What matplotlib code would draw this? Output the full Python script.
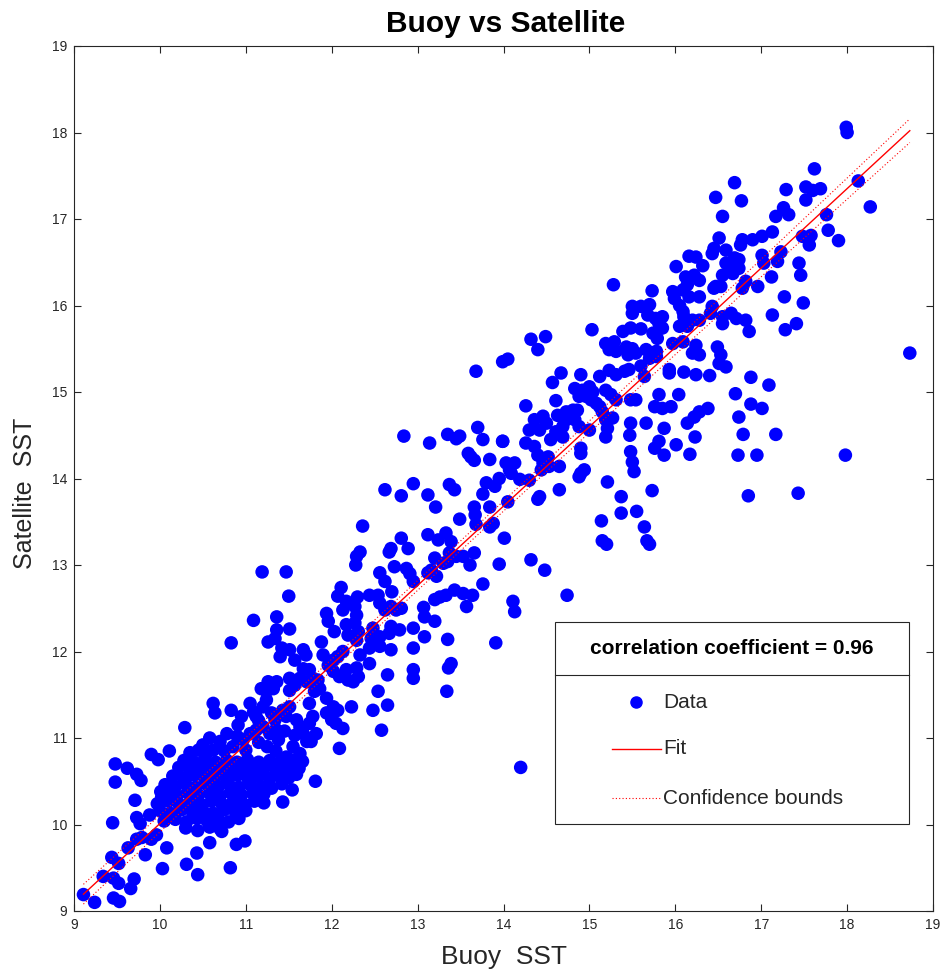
import numpy as np
import matplotlib
matplotlib.use("Agg")
import matplotlib.pyplot as plt
from matplotlib.patches import Rectangle
from matplotlib.lines import Line2D

plt.rcParams['font.family'] = ['Liberation Sans', 'DejaVu Sans']

# ---- data (Buoy SST, Satellite SST) ----
pts_low = [
    (10.29,11.12),(10.11,10.85),(9.90,10.81),(9.98,10.75),(9.48,10.70),(9.62,10.65),(9.73,10.58),(9.78,10.51),
    (9.48,10.49),(9.71,10.28),(9.45,10.02),(9.73,10.08),(9.77,10.01),(9.88,10.11),(10.01,10.38),(10.02,10.31),
    (9.96,9.88),(9.90,9.83),(9.79,9.85),(9.73,9.83),(9.63,9.73),(10.08,9.73),(9.83,9.65),(9.44,9.62),(9.52,9.55),
    (9.34,9.40),(9.46,9.38),(9.52,9.32),(9.70,9.37),(9.66,9.26),(10.03,9.49),(10.31,9.54),(10.44,9.42),(10.43,9.67),
    (10.82,9.50),(10.89,9.77),(10.99,9.81),(10.58,9.79),(10.72,9.92),(9.11,9.19),(9.24,9.10),(9.46,9.15),(9.53,9.11),
    (11.59,10.58),(11.54,10.40),(11.43,10.26),(11.21,10.25),(11.21,10.35),(11.30,10.42),
    (10.30,9.96),(10.44,9.93),(10.58,9.97),(10.70,9.95),
    (10.05,10.04),(10.18,10.06),(10.31,10.03),(10.43,10.07),(10.55,10.04),(10.68,10.06),(10.80,10.03),(10.92,10.07),
    (10.00,10.16),(10.12,10.13),(10.25,10.17),(10.38,10.14),(10.50,10.16),(10.62,10.13),(10.75,10.17),(10.88,10.14),(11.00,10.16),
    (9.97,10.24),(10.10,10.27),(10.22,10.24),(10.35,10.26),(10.48,10.23),(10.60,10.27),(10.72,10.24),(10.85,10.26),(10.98,10.23),(11.10,10.27),
    (10.08,10.36),(10.20,10.33),(10.32,10.37),(10.45,10.34),(10.58,10.36),(10.70,10.33),(10.82,10.37),(10.95,10.34),(11.08,10.36),
    (10.06,10.46),(10.18,10.44),(10.30,10.47),(10.42,10.43),(10.55,10.46),(10.68,10.44),(10.80,10.47),(10.92,10.43),(11.05,10.46),(11.18,10.44),(11.42,10.47),
    (10.15,10.56),(10.28,10.53),(10.40,10.57),(10.52,10.54),(10.65,10.56),(10.78,10.53),(10.90,10.57),(11.02,10.54),(11.15,10.56),(11.28,10.53),(11.40,10.57),(11.50,10.54),
    (10.22,10.66),(10.35,10.63),(10.48,10.67),(10.60,10.64),(10.72,10.66),(10.85,10.63),(10.98,10.67),(11.10,10.64),(11.22,10.66),(11.35,10.63),(11.48,10.67),(11.62,10.65),
    (10.28,10.74),(10.40,10.72),(10.52,10.75),(10.65,10.72),(10.78,10.74),(10.90,10.72),(11.02,10.75),(11.15,10.72),(11.28,10.74),(11.40,10.72),(11.52,10.75),(11.66,10.73),
    (10.35,10.83),(10.45,10.86),
]

pts_mid = [
    (11.19,12.92),(11.47,12.92),(11.50,12.64),(12.28,13.00),(12.56,12.91),(12.62,12.81),(12.73,12.98),(12.87,12.96),
    (12.91,12.90),(12.95,12.81),(13.12,12.91),(12.11,12.74),(12.07,12.64),(12.17,12.58),(12.13,12.48),(12.30,12.63),
    (12.27,12.52),(12.29,12.42),(12.44,12.65),(12.54,12.65),(12.56,12.56),(12.62,12.48),(12.70,12.69),(12.69,12.52),
    (12.75,12.48),(12.81,12.50),(13.07,12.51),(11.94,12.44),(11.96,12.35),(11.09,12.36),(11.36,12.40),(11.36,12.25),
    (11.34,12.15),(11.26,12.11),(11.51,12.26),(10.83,12.10),(12.03,12.23),(12.17,12.31),(12.27,12.33),(12.31,12.23),
    (12.19,12.19),(12.29,12.13),(12.48,12.27),(12.46,12.15),(12.56,12.17),(11.88,12.11),(12.69,12.29),(12.79,12.25),
    (12.67,12.21),(12.95,12.27),(13.08,12.17),(12.44,12.04),(12.56,12.06),(12.69,12.02),(12.95,12.04),(12.33,11.96),
    (12.13,12.00),(12.07,11.94),(12.02,11.90),(11.90,11.96),(11.96,11.84),(12.02,11.77),(12.09,11.71),(12.17,11.79),
    (12.29,11.81),(12.31,11.71),(12.19,11.67),(12.25,11.65),(12.44,11.86),(12.65,11.73),(12.95,11.79),(12.95,11.69),
    (11.51,12.02),(11.40,11.94),(11.42,12.04),(11.57,11.90),(11.67,12.02),(11.70,11.96),(11.67,11.80),(11.74,11.79),
    (11.78,11.69),(11.63,11.69),(11.71,11.65),(11.51,11.69),(11.57,11.61),(11.51,11.55),(11.84,11.67),(11.86,11.57),
    (11.80,11.54),(11.26,11.65),(11.36,11.65),(11.18,11.57),(11.24,11.54),(11.32,11.57),(12.54,11.54),(11.94,11.46),
    (12.02,11.36),(12.07,11.32),(12.23,11.36),(12.48,11.32),(12.65,11.38),(12.58,11.09),(11.74,11.40),(11.78,11.25),
    (11.74,11.17),(11.82,11.05),(11.76,10.96),(11.94,11.29),(12.00,11.21),(12.05,11.17),(12.13,11.11),(12.09,10.88),
    (10.62,11.40),(10.64,11.29),(10.83,11.32),(10.91,11.15),
    (11.05,11.40),(11.09,11.30),(11.12,11.25),(11.20,11.36),(11.24,11.44),(11.30,11.29),(11.34,11.21),(11.43,11.32),
    (11.51,11.36),(11.47,11.25),(11.59,11.21),(11.63,11.13),(11.57,11.03),(11.67,11.05),(11.71,10.96),(11.55,10.90),
    (11.63,10.82),(11.47,10.78),(11.38,10.98),(11.28,11.05),(11.20,11.13),(11.12,11.09),(11.05,11.05),(10.97,10.98),
    (10.85,10.90),(10.78,11.05),(10.70,10.96),(10.62,10.86),(10.54,10.82),
    (10.58,11.00),(10.75,10.85),(10.90,11.02),(11.00,10.86),(11.15,10.95),(11.25,10.90),(11.35,10.85),(11.45,11.08),
    (11.15,11.20),(10.95,11.25),(11.35,11.10),(10.50,10.92),
    (13.35,12.14),(13.91,12.10),(13.39,11.86),(13.36,11.81),(13.34,11.54),(14.20,10.66),(11.81,10.50),
]

pts_upper = [
    (12.84,14.49),(13.14,14.41),(13.35,14.51),(13.45,14.46),(13.49,14.49),(13.76,14.45),(13.99,14.43),
    (13.59,14.29),(13.62,14.25),(13.66,14.21),(13.84,14.22),(14.03,14.18),(14.13,14.18),(14.07,14.10),(14.09,14.06),
    (13.95,14.00),(14.19,13.99),(14.30,13.98),(13.80,13.95),(13.90,13.91),(13.76,13.82),(14.40,13.76),(14.65,13.87),
    (12.62,13.87),(12.81,13.80),(12.95,13.94),(13.12,13.81),(13.21,13.67),(13.37,13.93),(13.43,13.87),
    (13.66,13.67),(13.67,13.58),(13.68,13.47),(13.84,13.67),(14.05,13.73),(13.49,13.53),(13.84,13.44),(13.88,13.48),
    (14.01,13.31),(12.36,13.45),(12.81,13.31),(12.89,13.19),(12.69,13.19),(12.67,13.15),(12.33,13.15),(12.29,13.10),
    (13.12,13.35),(13.24,13.29),(13.33,13.37),(13.39,13.27),(13.20,13.08),(13.37,13.14),(13.45,13.10),(13.53,13.10),
    (13.61,13.00),(13.66,13.14),(13.35,13.04),(13.30,13.02),(13.16,12.94),(13.22,12.87),(13.95,13.01),(14.32,13.06),
    (14.48,12.94),(13.76,12.78),(13.43,12.71),(13.53,12.67),(13.64,12.65),(13.33,12.65),(13.26,12.63),(13.20,12.60),
    (13.57,12.52),(13.08,12.40),(13.20,12.35),(14.11,12.58),(14.13,12.46),(14.74,12.65),
    (14.32,15.61),(14.49,15.64),(14.40,15.49),(15.03,15.72),(13.99,15.35),(14.05,15.38),(13.68,15.24),
    (15.50,15.99),(15.60,15.99),(15.70,16.01),(15.50,15.91),(15.68,15.89),(15.77,15.85),(15.85,15.87),(15.81,15.79),(15.85,15.74),
    (15.39,15.70),(15.48,15.74),(15.60,15.73),(15.74,15.68),(15.79,15.62),(15.97,15.56),(16.09,15.58),
    (15.19,15.56),(15.29,15.58),(15.23,15.49),(15.31,15.47),(15.43,15.52),(15.50,15.50),(15.54,15.45),(15.45,15.43),
    (15.66,15.49),(15.74,15.45),(15.78,15.47),(15.70,15.39),(15.78,15.41),
    (15.60,15.30),(15.64,15.18),(15.93,15.26),(15.93,15.22),(16.10,15.23),
    (14.67,15.22),(14.57,15.11),(14.90,15.20),
    (15.12,15.18),(15.23,15.25),(15.31,15.20),(15.41,15.24),(15.46,15.26),
    (14.83,15.04),(14.92,15.02),(15.00,15.06),(15.04,15.00),(14.96,14.95),(15.02,14.91),(14.88,14.95),(15.08,14.87),(15.12,14.83),
    (15.19,15.02),(15.25,14.97),(15.31,14.91),(15.48,14.91),(15.54,14.91),
    (15.81,14.97),(15.76,14.83),(15.85,14.81),(15.95,14.83),(16.04,14.97),
    (14.26,14.84),(14.61,14.90),
    (14.36,14.68),(14.46,14.72),(14.50,14.64),(14.42,14.56),(14.30,14.56),
    (14.63,14.73),(14.73,14.77),(14.81,14.79),(14.86,14.79),(14.73,14.68),(14.83,14.68),(14.69,14.60),(14.61,14.54),(14.55,14.45),(14.69,14.48),
    (14.88,14.60),(15.00,14.56),
    (15.15,14.77),(15.19,14.68),(15.21,14.58),(15.19,14.48),(15.27,14.70),
    (15.48,14.64),(15.47,14.50),
    (15.66,14.64),(15.87,14.58),(16.01,14.39),(15.81,14.43),(15.76,14.35),(15.87,14.27),(16.14,14.64),
    (14.90,14.35),(14.90,14.29),
    (14.26,14.41),(14.36,14.37),(14.40,14.27),(14.52,14.25),(14.46,14.18),(14.44,14.10),(14.53,14.14),(14.65,14.14),
    (13.99,14.43),(13.70,14.59),
    (14.90,14.06),(14.94,14.10),(14.88,14.02),
    (14.42,13.79),(15.21,13.96),(15.37,13.79),
    (15.48,14.31),(15.50,14.19),(15.52,14.08),(15.73,13.86),
]

pts_top = [
    (16.69,17.42),(16.47,17.25),(16.77,17.21),(16.55,17.03),
    (17.48,16.80),(17.58,16.81),(17.56,16.70),(17.78,16.87),
    (17.13,16.85),(17.01,16.80),(16.90,16.76),(16.78,16.76),(16.76,16.70),
    (16.51,16.78),(16.45,16.66),(16.59,16.64),(16.43,16.60),
    (17.23,16.62),(17.01,16.58),(17.19,16.51),(17.03,16.49),
    (16.16,16.57),(16.24,16.56),(16.32,16.46),(16.01,16.45),
    (16.59,16.49),(16.69,16.55),(16.74,16.53),(16.65,16.45),(16.74,16.43),(16.55,16.35),(16.67,16.37),
    (17.44,16.49),(17.46,16.35),(17.12,16.33),
    (16.12,16.33),(16.22,16.35),(16.28,16.29),(16.14,16.24),(16.47,16.22),(16.53,16.22),(16.82,16.28),(16.78,16.20),(16.96,16.22),
    (15.97,16.16),(16.09,16.18),(16.16,16.10),(16.28,16.10),(15.99,16.08),(16.05,16.00),(16.09,15.93),
    (16.45,16.20),(16.43,15.99),(16.41,15.91),(16.55,15.87),(16.55,15.79),(16.65,15.91),(16.71,15.85),
    (15.28,16.24),(15.73,16.17),
    (16.10,15.87),(16.20,15.83),(16.28,15.83),(16.05,15.76),(16.14,15.76),
    (16.24,15.54),(16.20,15.45),(16.28,15.43),(16.49,15.52),(16.53,15.43),
    (16.82,15.83),(16.86,15.70),(17.13,15.89),(17.27,16.10),(17.49,16.03),(17.28,15.72),(17.41,15.79),
    (17.99,18.06),(18.00,18.00),(17.62,17.58),(17.29,17.34),(17.52,17.37),(17.60,17.33),(17.69,17.35),(17.52,17.22),
    (18.13,17.44),(17.26,17.13),(17.17,17.03),(17.32,17.05),(18.27,17.14),(17.76,17.05),(17.90,16.75),
    (18.73,15.45),(16.88,15.17),(17.09,15.08),(16.70,14.98),(16.88,14.86),(17.01,14.81),(16.74,14.71),(16.79,14.51),
    (17.17,14.51),(16.73,14.27),(16.95,14.27),(17.98,14.27),(16.85,13.80),(17.43,13.83),(16.51,15.33),(16.59,15.29),
    (16.40,15.19),(16.24,15.20),(16.38,14.81),(16.28,14.77),(16.22,14.71),(16.23,14.48),(16.17,14.28),
    (15.37,13.60),(15.55,13.62),(15.64,13.44),(15.14,13.51),(15.15,13.28),(15.20,13.24),(15.67,13.28),(15.70,13.24),
]

all_pts = np.array(pts_low + pts_mid + pts_upper + pts_top)
buoy_sst = all_pts[:, 0]
satellite_sst = all_pts[:, 1]

# linear fit coefficients
fit_slope = 0.9175
fit_intercept = 0.836

corr_text = "correlation coefficient = 0.96"
x_ticks = list(range(9, 20))
y_ticks = list(range(9, 20))

# ---- fit line and confidence bounds ----
xf = np.linspace(buoy_sst.min(), buoy_sst.max(), 200)
yf = fit_slope * xf + fit_intercept
n = len(buoy_sst)
resid = satellite_sst - (fit_slope * buoy_sst + fit_intercept)
s = np.sqrt(np.sum((resid - resid.mean()) ** 2) / (n - 2))
xm = buoy_sst.mean()
sxx = np.sum((buoy_sst - xm) ** 2)
half = 1.96 * s * np.sqrt(1.0 / n + (xf - xm) ** 2 / sxx)

# ---- figure ----
W, H = 948, 973
fig = plt.figure(figsize=(W / 100, H / 100), dpi=100)
ax = fig.add_axes([74 / W, 1 - 911 / H, (933 - 74) / W, (911 - 46) / H])

axc = '#262626'
ax.scatter(buoy_sst, satellite_sst, s=95, color='#0000FF', edgecolors='none', zorder=2)
ax.plot(xf, yf, color='#FF0000', lw=1.0, zorder=3)
ax.plot(xf, yf + half, color='#FF0000', lw=0.8, ls=(0, (1, 2)), zorder=3)
ax.plot(xf, yf - half, color='#FF0000', lw=0.8, ls=(0, (1, 2)), zorder=3)

ax.set_xlim(9, 19)
ax.set_ylim(9, 19)
ax.set_xticks(x_ticks)
ax.set_yticks(y_ticks)
ax.tick_params(direction='in', length=5, width=0.8, colors=axc, labelsize=10,
               top=True, right=True, pad=5)
for sp in ax.spines.values():
    sp.set_color(axc)
    sp.set_linewidth(0.8)

fig.text(506 / W, 1 - 24 / H, "Buoy vs Satellite", ha='center', va='center',
         fontsize=21.5, fontweight='bold', color='black')
fig.text(504 / W, 1 - 957 / H, "Buoy  SST", ha='center', va='center',
         fontsize=19, color=axc)
fig.text(25 / W, 1 - 493 / H, "Satellite  SST", ha='center', va='center',
         fontsize=18, color=axc, rotation=90)

# ---- legend box (MATLAB style with title separator) ----
def fx(px):
    return (px - 74) / (933 - 74)

def fy(py):
    return (911 - py) / (911 - 46)

T = ax.transAxes
ax.add_patch(Rectangle((fx(555), fy(824)), fx(909) - fx(555), fy(622) - fy(824),
                       transform=T, facecolor='white', edgecolor=axc, lw=0.8, zorder=5))
ax.add_line(Line2D([fx(555), fx(909)], [fy(675), fy(675)], transform=T, color=axc, lw=0.8, zorder=6))
ax.text(fx(732), fy(649), corr_text, transform=T, ha='center', va='center',
        fontsize=15, fontweight='bold', color='black', zorder=6)
ax.add_line(Line2D([fx(636)], [fy(702)], transform=T, marker='o', ms=8, color='#0000FF',
                   ls='none', zorder=6))
ax.text(fx(663), fy(702), "Data", transform=T, ha='left', va='center', fontsize=15, color=axc, zorder=6)
ax.add_line(Line2D([fx(612), fx(661)], [fy(749), fy(749)], transform=T, color='#FF0000', lw=1.0, zorder=6))
ax.text(fx(663), fy(749), "Fit", transform=T, ha='left', va='center', fontsize=15, color=axc, zorder=6)
ax.add_line(Line2D([fx(612), fx(661)], [fy(798), fy(798)], transform=T, color='#FF0000', lw=0.8,
                   ls=(0, (1, 2)), zorder=6))
ax.text(fx(663), fy(798), "Confidence bounds", transform=T, ha='left', va='center', fontsize=15,
        color=axc, zorder=6)

fig.savefig("out.png", dpi=100)
